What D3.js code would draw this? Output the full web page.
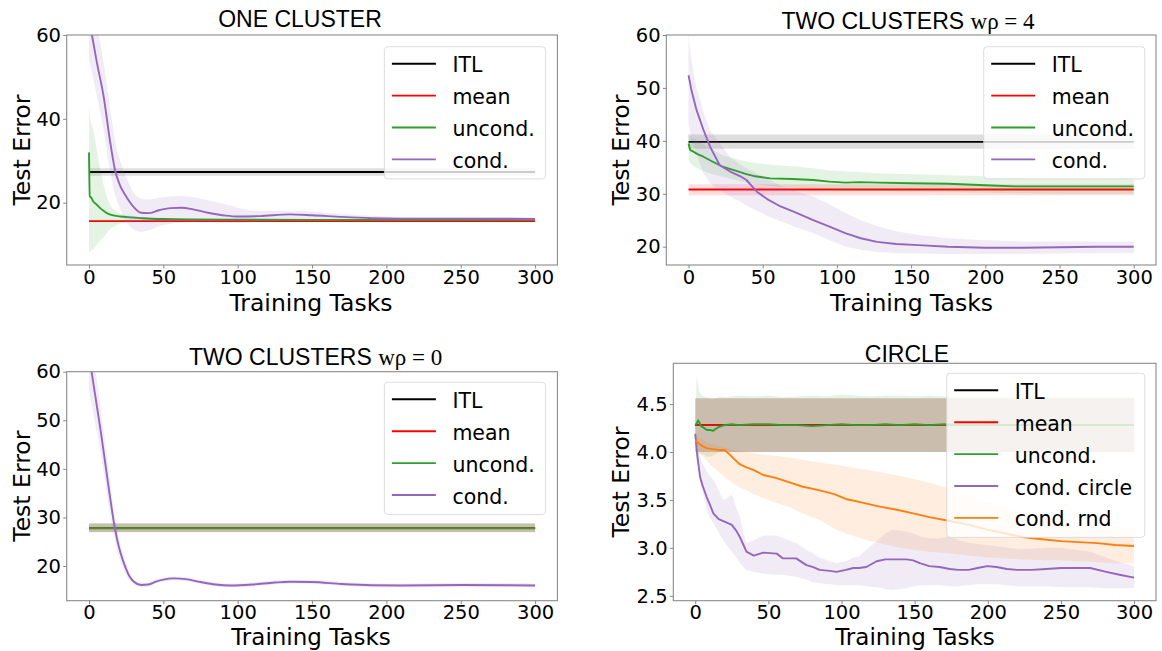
<!DOCTYPE html>
<html><head><meta charset="utf-8">
<script src="https://cdn.jsdelivr.net/npm/d3@7"></script>
<style>body{margin:0;background:#fff}</style>
</head><body><svg id="c" width="1162" height="651"></svg>
<script>
// ---------------- DATA ----------------
const xTicks = [0, 50, 100, 150, 200, 250, 300];
const xConst = [0, 300];

// Panel 1: ONE CLUSTER
const p1_itl = [27.3, 27.3], p1_itl_lo = [26.4, 26.4], p1_itl_hi = [28.2, 28.2];
const p1_mean = [15.6, 15.6], p1_mean_lo = [15.3, 15.3], p1_mean_hi = [15.9, 15.9];
const p1_unc_x  = [0, 0.5, 1.5, 3, 5, 7.5, 10, 12, 15, 21, 28, 36, 50, 70, 100, 150, 200, 300];
const p1_unc    = [32, 21.5, 21.2, 20.2, 19.6, 18.7, 18.0, 17.5, 17.1, 16.7, 16.5, 16.3, 16.1, 16.0, 15.95, 15.9, 15.9, 15.9];
const p1_unc_lo = [8, 8.2, 8.6, 9, 9.8, 11, 11.8, 12.8, 13.9, 15.0, 15.4, 15.6, 15.7, 15.75, 15.8, 15.8, 15.8, 15.8];
const p1_unc_hi = [43, 41, 39, 37, 33, 28, 24, 21.5, 19, 17.5, 16.9, 16.6, 16.3, 16.1, 16.05, 16.0, 16.0, 16.0];
const p1_cond_x  = [0, 2, 5, 10, 14, 17.5, 21, 25, 30, 35, 40, 47, 55, 62, 70, 80, 92, 100, 115, 135, 150, 170, 190, 210, 250, 300];
const p1_cond    = [64, 60, 54, 45, 35, 27.8, 24.0, 21.5, 19.0, 17.6, 17.5, 18.2, 18.7, 18.8, 18.4, 17.6, 16.9, 16.7, 16.8, 17.2, 17.0, 16.6, 16.3, 16.2, 16.2, 16.1];
const p1_cond_lo = [54, 51, 46, 37, 28, 22, 18.5, 15.5, 13.6, 13.0, 13.4, 14.4, 15.0, 15.3, 15.4, 15.3, 15.2, 15.2, 15.4, 15.6, 15.7, 15.8, 15.8, 15.8, 15.8, 15.8];
const p1_cond_hi = [74, 70, 63, 53, 43, 35, 30, 26, 22.5, 21.0, 20.8, 21.2, 21.5, 21.6, 21.3, 20.6, 19.6, 18.8, 18.0, 18.1, 17.9, 17.3, 16.9, 16.6, 16.5, 16.4];
const p1_yTicks = [20, 40, 60];

// Panel 2: TWO CLUSTERS w rho = 4
const p2_itl = [39.8, 39.8], p2_itl_lo = [38.5, 38.5], p2_itl_hi = [41.2, 41.2];
const p2_mean = [30.8, 30.8], p2_mean_lo = [29.7, 29.7], p2_mean_hi = [31.8, 31.8];
const p2_unc_x  = [0, 1, 3, 6, 10, 16, 23, 30, 39, 45, 55, 70, 84, 95, 106, 115, 128, 150, 175, 200, 220, 250, 280, 300];
const p2_unc    = [39.5, 38.3, 38.0, 37.5, 37.0, 36.1, 35.1, 34.5, 33.7, 33.3, 32.9, 32.8, 32.6, 32.3, 32.1, 32.2, 32.1, 32.0, 31.9, 31.6, 31.4, 31.4, 31.4, 31.4];
const p2_unc_hi = [41.4, 41, 40.5, 40, 39.3, 38.3, 37.3, 36.7, 36.1, 35.8, 35.5, 35.2, 34.8, 34.4, 34.2, 34.1, 33.9, 33.7, 33.5, 33.3, 33.1, 33.0, 33.0, 33.0];
const p2_unc_lo = [36.4, 35.8, 35.3, 34.8, 34.3, 33.7, 33.2, 32.7, 32.1, 31.8, 31.4, 31.2, 31.0, 30.8, 30.6, 30.6, 30.5, 30.4, 30.3, 30.2, 30.1, 30.0, 30.0, 30.0];
const p2_cond_x  = [0, 2, 5.4, 10, 14.5, 21, 28, 35, 39, 46, 53, 62, 72, 84, 95, 106, 116, 127, 140, 155, 175, 200, 225, 250, 275, 300];
const p2_cond    = [52.4, 49.5, 45.8, 42.1, 38.9, 35.4, 34.2, 33.3, 32.6, 30.4, 29.0, 27.6, 26.5, 25.0, 23.8, 22.5, 21.6, 20.9, 20.5, 20.3, 20.0, 19.8, 19.8, 19.9, 20.0, 20.0];
const p2_cond_hi = [60, 55, 50, 45.5, 42, 39.5, 37.0, 35.5, 34.8, 33.8, 33.0, 31.5, 30.5, 29.5, 28.0, 26.3, 25.0, 23.9, 22.9, 22.2, 21.6, 21.2, 21.0, 21.0, 21.0, 21.0];
const p2_cond_lo = [43, 40.5, 37.5, 33.9, 32, 30.6, 29.5, 28.5, 27.8, 26.8, 25.8, 24.8, 23.7, 22.6, 21.2, 20.0, 19.4, 19.0, 18.8, 18.7, 18.6, 18.6, 18.6, 18.7, 18.8, 18.8];
const p2_yTicks = [20, 30, 40, 50, 60];

// Panel 3: TWO CLUSTERS w rho = 0
const p3_itl = [27.8, 27.8], p3_itl_lo = [26.95, 26.95], p3_itl_hi = [28.8, 28.8];
const p3_mean = [27.75, 27.75], p3_mean_lo = [27.0, 27.0], p3_mean_hi = [28.75, 28.75];
const p3_unc = [27.8, 27.8], p3_unc_lo = [27.0, 27.0], p3_unc_hi = [28.7, 28.7];
const p3_cond_x  = [0, 2, 5, 8, 11, 14, 17, 20, 23, 27, 30, 35, 40, 45, 50, 57, 65, 75, 85, 95, 110, 125, 135, 150, 170, 190, 210, 250, 300];
const p3_cond    = [64, 59.5, 53.5, 47.5, 41, 34.5, 28.5, 24, 21, 18, 16.8, 16.1, 16.2, 16.8, 17.2, 17.45, 17.3, 16.7, 16.2, 16.0, 16.2, 16.6, 16.75, 16.7, 16.3, 16.05, 16.0, 16.1, 16.0];
const p3_cond_lo = [56, 53, 48, 43, 37, 31, 26, 22, 19.5, 17.2, 16.3, 15.7, 15.8, 16.4, 16.8, 17.05, 16.9, 16.3, 15.8, 15.6, 15.8, 16.2, 16.35, 16.3, 15.9, 15.65, 15.6, 15.7, 15.6];
const p3_cond_hi = [72, 66, 59, 52, 45, 38, 31, 26, 22.5, 18.8, 17.3, 16.5, 16.6, 17.2, 17.6, 17.85, 17.7, 17.1, 16.6, 16.4, 16.6, 17.0, 17.15, 17.1, 16.7, 16.45, 16.4, 16.5, 16.4];
const p3_yTicks = [20, 30, 40, 50, 60];

// Panel 4: CIRCLE
const p4_itl = [4.28, 4.28], p4_itl_lo = [4.0, 4.0], p4_itl_hi = [4.56, 4.56];
const p4_mean = [4.28, 4.28], p4_mean_lo = [4.0, 4.0], p4_mean_hi = [4.56, 4.56];
const p4_unc_x  = [0, 1, 2, 3, 4, 6, 8, 10, 12, 14, 16, 18, 20, 25, 30, 40, 50, 60, 70, 80, 90, 100, 110, 120, 130, 140, 150, 160, 170, 180, 190, 200, 210, 220, 230, 240, 250, 260, 270, 280, 290, 300];
const p4_unc    = [4.28, 4.30, 4.33, 4.30, 4.27, 4.25, 4.23, 4.23, 4.22, 4.24, 4.26, 4.27, 4.28, 4.29, 4.28, 4.29, 4.29, 4.28, 4.28, 4.27, 4.28, 4.29, 4.28, 4.28, 4.29, 4.28, 4.29, 4.28, 4.29, 4.28, 4.28, 4.29, 4.28, 4.28, 4.28, 4.29, 4.28, 4.28, 4.28, 4.28, 4.28, 4.28];
const p4_unc_hi = [4.30, 4.80, 4.70, 4.62, 4.60, 4.58, 4.57, 4.56, 4.55, 4.56, 4.57, 4.58, 4.57, 4.58, 4.59, 4.58, 4.59, 4.57, 4.58, 4.59, 4.58, 4.60, 4.59, 4.58, 4.59, 4.59, 4.58, 4.59, 4.58, 4.59, 4.58, 4.59, 4.58, 4.59, 4.58, 4.58, 4.59, 4.58, 4.58, 4.58, 4.58, 4.58];
const p4_unc_lo = [4.26, 3.90, 3.95, 3.98, 3.98, 3.97, 3.95, 3.95, 3.96, 3.98, 3.99, 4.00, 4.00, 4.00, 4.00, 4.00, 4.00, 4.00, 4.00, 4.00, 4.00, 4.00, 4.00, 4.00, 4.00, 4.00, 4.00, 4.00, 4.00, 4.00, 4.00, 4.00, 4.00, 4.00, 4.00, 4.00, 4.00, 4.00, 4.00, 4.00, 4.00, 4.00];
const p4_circ_x  = [0, 1.5, 3.3, 5, 7.8, 10, 12.4, 16, 19.2, 22, 25, 28, 30.6, 33, 35, 40, 46.5, 55.7, 60, 69, 76, 80.7, 85, 92, 96.6, 103, 108, 112, 117, 124, 130, 135, 144.5, 149, 153.5, 160, 167, 174, 180, 187, 193, 199.6, 206, 213, 220, 230, 240, 250, 260, 270, 281, 290, 300];
const p4_circ    = [4.19, 3.95, 3.74, 3.65, 3.53, 3.45, 3.36, 3.30, 3.28, 3.26, 3.24, 3.18, 3.11, 3.03, 2.96, 2.92, 2.95, 2.94, 2.89, 2.89, 2.82, 2.80, 2.77, 2.76, 2.75, 2.77, 2.79, 2.79, 2.80, 2.86, 2.88, 2.88, 2.88, 2.87, 2.84, 2.81, 2.80, 2.78, 2.77, 2.77, 2.79, 2.81, 2.80, 2.78, 2.77, 2.77, 2.78, 2.79, 2.79, 2.79, 2.75, 2.72, 2.69];
const p4_circ_hi = [4.19, 4.05, 3.95, 3.88, 3.80, 3.75, 3.71, 3.60, 3.50, 3.52, 3.56, 3.42, 3.32, 3.15, 3.05, 3.08, 3.13, 3.13, 3.10, 3.05, 2.98, 2.94, 2.90, 2.86, 2.84, 2.86, 2.90, 2.91, 2.98, 3.07, 3.15, 3.19, 3.17, 3.15, 3.12, 3.10, 3.10, 3.12, 3.08, 3.05, 3.04, 3.03, 3.02, 3.00, 2.99, 2.99, 3.00, 3.00, 2.98, 2.96, 2.90, 2.85, 2.81];
const p4_circ_lo = [4.15, 3.90, 3.70, 3.58, 3.40, 3.32, 3.26, 3.16, 3.08, 3.02, 2.96, 2.90, 2.84, 2.80, 2.77, 2.75, 2.73, 2.72, 2.72, 2.70, 2.67, 2.64, 2.63, 2.62, 2.61, 2.61, 2.61, 2.61, 2.60, 2.59, 2.57, 2.56, 2.58, 2.60, 2.61, 2.61, 2.61, 2.60, 2.60, 2.61, 2.62, 2.62, 2.62, 2.61, 2.60, 2.60, 2.60, 2.59, 2.59, 2.59, 2.58, 2.58, 2.58];
const p4_rnd_x  = [0, 4, 7.8, 12, 17, 20, 23.8, 27, 30.6, 35, 40, 46.5, 55, 65, 73, 85, 95, 103, 115, 126, 137, 149, 160, 174, 187, 199.6, 212, 225, 237, 250, 262, 275, 287, 300];
const p4_rnd    = [4.12, 4.07, 4.04, 4.03, 4.02, 4.02, 3.97, 3.92, 3.87, 3.84, 3.81, 3.76, 3.73, 3.68, 3.64, 3.60, 3.56, 3.51, 3.47, 3.43, 3.40, 3.36, 3.32, 3.28, 3.24, 3.19, 3.15, 3.11, 3.09, 3.07, 3.06, 3.05, 3.03, 3.02];
const p4_rnd_hi = [4.18, 4.14, 4.10, 4.08, 4.06, 4.05, 4.03, 4.02, 4.01, 4.00, 3.99, 3.97, 3.96, 3.94, 3.92, 3.89, 3.87, 3.85, 3.82, 3.79, 3.76, 3.72, 3.68, 3.62, 3.55, 3.48, 3.42, 3.35, 3.30, 3.27, 3.24, 3.22, 3.21, 3.20];
const p4_rnd_lo = [4.08, 3.97, 3.91, 3.84, 3.78, 3.74, 3.70, 3.66, 3.63, 3.60, 3.56, 3.52, 3.47, 3.42, 3.36, 3.29, 3.20, 3.15, 3.09, 3.05, 3.01, 2.98, 2.96, 2.94, 2.92, 2.90, 2.89, 2.88, 2.87, 2.87, 2.86, 2.85, 2.84, 2.84];
const p4_yTicks = [2.5, 3.0, 3.5, 4.0, 4.5];

const labels4 = ["ITL", "mean", "uncond.", "cond."];
const labels5 = ["ITL", "mean", "uncond.", "cond. circle", "cond. rnd"];

// ---------------- STYLE ----------------
const COL = {itl: "#000000", mean: "#ff0000", unc: "#2ca02c", cond: "#9467bd", rnd: "#ff7f0e"};
const SANS = "DejaVu Sans";
const BAND_OP = 0.13;

const S = (x, y, lo, hi, color, curve) => ({x, y, lo, hi, color, curve: curve || d3.curveLinear});
const smooth = d3.curveMonotoneX;

const panels = [
  {
    box: {x0: 66.7, x1: 557.4, y0: 35, y1: 265}, yDomain: [5.13, 60], yTicks: p1_yTicks, fmt: d3.format("d"),
    title: [["ONE CLUSTER", "Liberation Sans"]], titleX: 300, titleY: 26.5,
    xlabelX: 311, xlabelY: 311, xlabelSize: 23.5, tickPad: 1.8, ylabelX: 29.6,
    legend: {x0: 384.4, x1: 545.6, y0: 46.7}, labels: labels4,
    series: [
      S(xConst, p1_itl, p1_itl_lo, p1_itl_hi, COL.itl),
      S(xConst, p1_mean, p1_mean_lo, p1_mean_hi, COL.mean),
      S(p1_unc_x, p1_unc, p1_unc_lo, p1_unc_hi, COL.unc, smooth),
      S(p1_cond_x, p1_cond, p1_cond_lo, p1_cond_hi, COL.cond, smooth)
    ]
  },
  {
    box: {x0: 666.3, x1: 1156, y0: 35, y1: 265}, yDomain: [16.54, 60], yTicks: p2_yTicks, fmt: d3.format("d"),
    title: [["TWO CLUSTERS ", "Liberation Sans"], ["wρ = 4", "Liberation Serif"]], titleX: 908, titleY: 29,
    xlabelX: 911.5, xlabelY: 311, xlabelSize: 23.5, tickPad: 1.8, ylabelX: 628.9,
    legend: {x0: 983.7, x1: 1144.8, y0: 46.7}, labels: labels4,
    series: [
      S(xConst, p2_itl, p2_itl_lo, p2_itl_hi, COL.itl),
      S(xConst, p2_mean, p2_mean_lo, p2_mean_hi, COL.mean),
      S(p2_unc_x, p2_unc, p2_unc_lo, p2_unc_hi, COL.unc),
      S(p2_cond_x, p2_cond, p2_cond_lo, p2_cond_hi, COL.cond)
    ]
  },
  {
    box: {x0: 66.7, x1: 557.4, y0: 371.7, y1: 600.7}, yDomain: [12.86, 60], yTicks: p3_yTicks, fmt: d3.format("d"),
    title: [["TWO CLUSTERS ", "Liberation Sans"], ["wρ = 0", "Liberation Serif"]], titleX: 315.6, titleY: 365,
    xlabelX: 311, xlabelY: 645.2, xlabelSize: 23, tickPad: 0.8, ylabelX: 29.6,
    legend: {x0: 384.4, x1: 545.6, y0: 382.3}, labels: labels4,
    series: [
      S(xConst, p3_itl, p3_itl_lo, p3_itl_hi, COL.itl),
      S(xConst, p3_mean, p3_mean_lo, p3_mean_hi, COL.mean),
      S(xConst, p3_unc, p3_unc_lo, p3_unc_hi, COL.unc),
      S(p3_cond_x, p3_cond, p3_cond_lo, p3_cond_hi, COL.cond, smooth)
    ]
  },
  {
    box: {x0: 673.3, x1: 1156, y0: 363.3, y1: 600.7}, yDomain: [2.449, 4.925], yTicks: p4_yTicks, fmt: d3.format(".1f"),
    title: [["CIRCLE", "Liberation Sans"]], titleX: 907, titleY: 361.5,
    xlabelX: 915, xlabelY: 645.2, xlabelSize: 23, tickPad: 0.8, ylabelX: 628.9,
    legend: {x0: 946.7, x1: 1144.8, y0: 373.3}, labels: labels5,
    series: [
      S(xConst, p4_itl, p4_itl_lo, p4_itl_hi, COL.itl),
      S(xConst, p4_mean, p4_mean_lo, p4_mean_hi, COL.mean),
      S(p4_unc_x, p4_unc, p4_unc_lo, p4_unc_hi, COL.unc),
      S(p4_circ_x, p4_circ, p4_circ_lo, p4_circ_hi, COL.cond),
      S(p4_rnd_x, p4_rnd, p4_rnd_lo, p4_rnd_hi, COL.rnd)
    ]
  }
];

const svg = d3.select("#c");
svg.append("rect").attr("width", 1162).attr("height", 651).attr("fill", "#fff");

panels.forEach((p, pi) => {
  const b = p.box;
  const x = d3.scaleLinear().domain([-15, 315]).range([b.x0, b.x1]);
  const y = d3.scaleLinear().domain(p.yDomain).range([b.y1, b.y0]);
  const g = svg.append("g");

  const clipId = "clip" + pi;
  svg.append("defs").append("clipPath").attr("id", clipId)
    .append("rect").attr("x", b.x0).attr("y", b.y0).attr("width", b.x1 - b.x0).attr("height", b.y1 - b.y0);
  const data = g.append("g").attr("clip-path", `url(#${clipId})`);

  p.series.forEach(s => {
    const pts = s.x.map((xv, i) => ({x: xv, y: s.y[i], lo: s.lo[i], hi: s.hi[i]}));
    data.append("path").datum(pts)
      .attr("d", d3.area().x(d => x(d.x)).y0(d => y(d.lo)).y1(d => y(d.hi)).curve(s.curve))
      .attr("fill", s.color).attr("fill-opacity", BAND_OP).attr("stroke", "none");
    data.append("path").datum(pts)
      .attr("d", d3.line().x(d => x(d.x)).y(d => y(d.y)).curve(s.curve))
      .attr("fill", "none").attr("stroke", s.color).attr("stroke-width", 1.9)
      .attr("stroke-linejoin", "round");
  });

  // axes
  const xa = g.append("g").attr("transform", `translate(0,${b.y1})`)
    .call(d3.axisBottom(x).tickValues(xTicks).tickSize(3.5).tickPadding(p.tickPad));
  const ya = g.append("g").attr("transform", `translate(${b.x0},0)`)
    .call(d3.axisLeft(y).tickValues(p.yTicks).tickFormat(p.fmt).tickSize(3.5).tickPadding(2.2));
  [xa, ya].forEach(a => {
    a.select(".domain").remove();
    a.selectAll(".tick line").attr("stroke", "#888").attr("stroke-width", 1);
    a.selectAll(".tick text").attr("fill", "#000").style("font-family", SANS).style("font-size", "19.5px");
  });

  // spines
  g.append("rect").attr("x", b.x0).attr("y", b.y0).attr("width", b.x1 - b.x0).attr("height", b.y1 - b.y0)
    .attr("fill", "none").attr("stroke", "#8a8a8a").attr("stroke-width", 1.1);

  // legend
  const L = p.legend, n = p.labels.length, rowH = 31.9;
  const lh = 36.5 + (n - 1) * rowH;
  const lg = g.append("g");
  lg.append("rect").attr("x", L.x0).attr("y", L.y0).attr("width", L.x1 - L.x0).attr("height", lh)
    .attr("rx", 3.5).attr("fill", "#fff").attr("fill-opacity", 0.8)
    .attr("stroke", "#d5d5d5").attr("stroke-opacity", 0.8).attr("stroke-width", 1);
  p.labels.forEach((lab, i) => {
    const ry = L.y0 + 17 + i * rowH;
    lg.append("line").attr("x1", L.x0 + 7.5).attr("x2", L.x0 + 51.5).attr("y1", ry).attr("y2", ry)
      .attr("stroke", p.series[i].color).attr("stroke-width", 1.9);
    lg.append("text").attr("x", L.x0 + 68).attr("y", ry + 8.5).text(lab)
      .style("font-family", SANS).style("font-size", "20.5px").attr("fill", "#000");
  });

  // title
  const t = g.append("text").attr("x", p.titleX).attr("y", p.titleY).attr("text-anchor", "middle")
    .style("font-size", "23px").attr("fill", "#000");
  p.title.forEach(([txt, fam]) => t.append("tspan").text(txt).style("font-family", fam));

  // axis labels
  g.append("text").attr("x", p.xlabelX).attr("y", p.xlabelY).attr("text-anchor", "middle")
    .style("font-family", SANS).style("font-size", p.xlabelSize + "px").text("Training Tasks");
  g.append("text").attr("transform", `translate(${p.ylabelX},${(b.y0 + b.y1) / 2}) rotate(-90)`)
    .attr("text-anchor", "middle").style("font-family", SANS).style("font-size", "23.5px").text("Test Error");
});
</script></body></html>
